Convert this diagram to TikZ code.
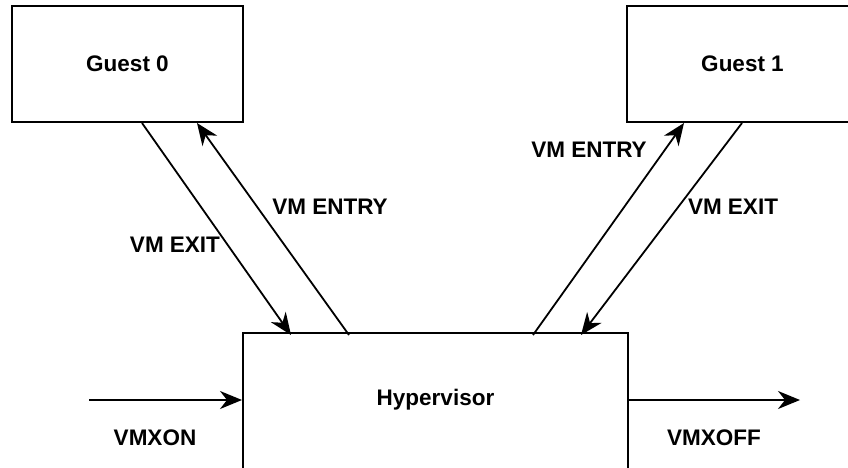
\documentclass[tikz,border=0pt]{standalone}
\usepackage{fontspec}
\setmainfont{Liberation Sans}
\usetikzlibrary{arrows.meta}
\begin{document}
\begin{tikzpicture}[x=1pt,y=1pt,
  box/.style={draw=black,line width=2pt,fill=white,inner sep=0pt,
    font=\fontsize{22.5}{27}\selectfont\bfseries},
  lbl/.style={inner sep=0pt,font=\fontsize{22.5}{27}\selectfont\bfseries},
  tip/.tip={Stealth[length=22pt,width=18pt,inset=7pt]},
  arr/.style={line width=1.8pt,-tip}]
  \useasboundingbox (0,0) rectangle (848,467);
  \clip (0,0) rectangle (848,467);

  % machines
  \node[box,minimum width=231pt,minimum height=116pt] (g0) at (127.5,403) {Guest 0};
  \node[box,minimum width=231pt,minimum height=116pt] (g1) at (742.5,403) {Guest 1};
  \node[box,minimum width=385pt,minimum height=140pt] (hv) at (435.5,64) {};
  \node[lbl] (hvt) at (435.5,67) {Hypervisor};

  % transitions between Guest 0 and the hypervisor
  \draw[arr] ([xshift=131pt]g0.south west) -- ([xshift=49pt,yshift=-3pt]hv.north west);
  \draw[arr] ([xshift=107pt,yshift=-3pt]hv.north west) -- ([xshift=186pt]g0.south west);

  % transitions between Guest 1 and the hypervisor
  \draw[arr] ([xshift=-96pt,yshift=-3pt]hv.north east) -- ([xshift=58pt]g1.south west);
  \draw[arr] ([xshift=116pt]g1.south west) -- ([xshift=-48pt,yshift=-3pt]hv.north east);

  % entering and leaving VMX operation
  \coordinate (on) at (89,67);
  \coordinate (off) at (800,67);
  \draw[arr] (on) -- (on -| hv.west);
  \draw[arr] (off -| hv.east) -- (off);

  % labels
  \node[lbl] (l1) at (175,222) {VM EXIT};
  \node[lbl] (l2) at (330,260) {VM ENTRY};
  \node[lbl] (l3) at (589,317) {VM ENTRY};
  \node[lbl] (l4) at (733,260) {VM EXIT};
  \node[lbl] (l5) at (155,29) {VMXON};
  \node[lbl] (l6) at (714,29) {VMXOFF};
\end{tikzpicture}
\end{document}
